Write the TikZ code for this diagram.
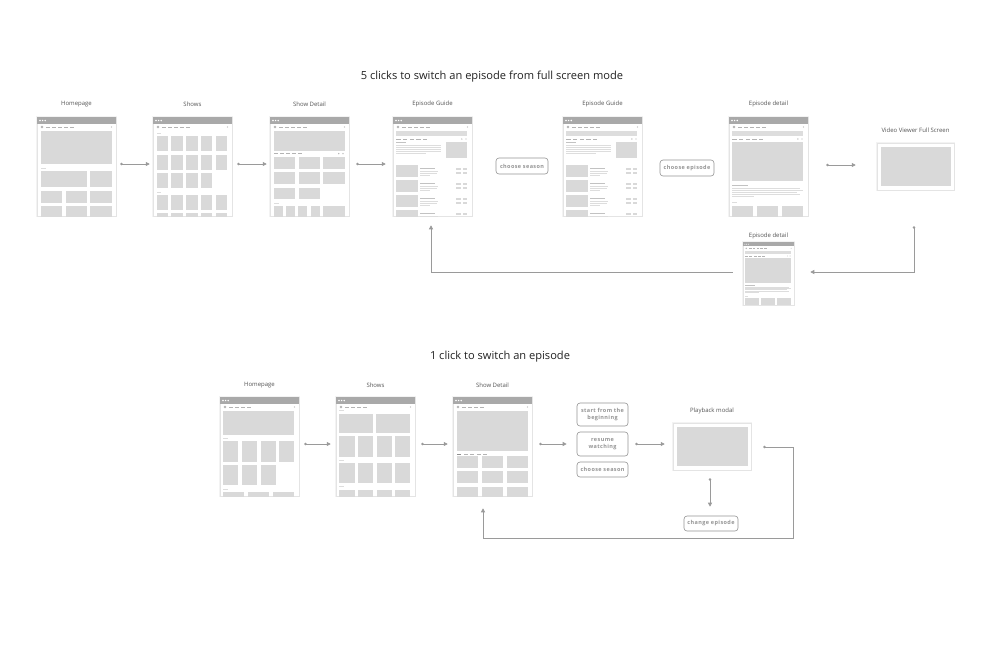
\documentclass[tikz,border=0pt]{standalone}
\usepackage{fontspec}
\setmainfont{Open Sans}
\newfontfamily\btnfont[LetterSpace=7]{Open Sans}
\usetikzlibrary{arrows.meta}
\definecolor{headc}{HTML}{A9A9A9}
\definecolor{boxc}{HTML}{D9D9D9}
\definecolor{linec}{HTML}{DDDDDD}
\definecolor{darkl}{HTML}{C2C2C2}
\definecolor{navc}{HTML}{B3B3B3}
\definecolor{arrowc}{HTML}{9A9A9A}
\definecolor{btnc}{HTML}{949494}
\definecolor{labelc}{HTML}{555555}
\definecolor{titlec}{HTML}{222222}
\definecolor{edgec}{HTML}{E4E4E4}
\definecolor{halo}{HTML}{F3F3F3}
\tikzset{
  wf/.style={draw=edgec, fill=white, line width=0.5pt, minimum width=79pt, minimum height=99pt, inner sep=0pt,
    preaction={draw=halo, line width=2.4pt}},
  wfsmall/.style={wf, minimum width=51pt, minimum height=63pt},
  modal/.style={wf, minimum width=77pt, minimum height=47pt},
  flow/.style={draw=arrowc, line width=0.8pt, {Circle[length=2.4pt]}-{Triangle[length=4pt,width=4pt]}},
  flowend/.style={draw=arrowc, line width=0.8pt, -{Triangle[length=4pt,width=4pt]}},
  btn/.style={draw=btnc, rounded corners=3pt, line width=0.6pt, text=btnc, align=center, inner sep=0pt,
    font=\btnfont\bfseries\fontsize{5.5}{7.4}\selectfont},
  lbl/.style={font=\fontsize{6}{7}\selectfont, text=labelc, inner sep=0pt},
  ttl/.style={font=\fontsize{11.1}{13}\selectfont, text=titlec, inner sep=0pt}
}
\newcommand{\bx}[4]{\fill[boxc] (#1,#2) rectangle (#3,#4);}
\newcommand{\tl}[3]{\fill[linec] (#1,#2) rectangle (#3,#2+0.8);}
\newcommand{\dl}[3]{\fill[darkl] (#1,#2) rectangle (#3,#2+1);}
\newcommand{\wfhead}[1]{%
  \fill[headc] (0,0) rectangle (79,7);
  \foreach \i in {3,5.6,8.2} \fill[white] (\i,3.5) circle (0.8);
  \fill[navc] (5,10) circle (1.3);
  \foreach \i in {#1} \fill[navc] (\i,9.65) rectangle ++(4.2,0.7);
  \fill[navc] (74.5,10) circle (0.7);}
\newcommand{\tabs}[3]{%
  \foreach \i in {#1} \fill[navc] (\i,#2) rectangle ++(4.3,0.6);
  \ifx#3y\fill[navc] (68.8,#2+0.3) circle (0.7); \fill[navc] (73,#2+0.3) circle (0.7);\fi}
\newcommand{\placewf}[3]{\begin{scope}[shift={(#1,#2)}]\clip (0,0) rectangle (79,99); #3\end{scope}}
% ---------- contents ----------
\newcommand{\cHome}{\wfhead{9,15,21,27,33}
  \bx{4}{14}{75}{47}
  \tl{4}{50.5}{9}
  \bx{4}{54}{50}{70}\bx{53}{54}{75}{70}
  \bx{4}{74}{25}{86}\bx{29}{74}{50}{86}\bx{53}{74}{75}{86}
  \bx{4}{89}{25}{104}\bx{29}{89}{50}{104}\bx{53}{89}{75}{104}}
\newcommand{\cShows}{\wfhead{9,15,21,27,33}
  \tl{3.5}{15.5}{8}
  \foreach \c in {3.5,18.3,33.1,47.9,62.7}{\bx{\c}{19}{\c+11.5}{34}\bx{\c}{38}{\c+11.5}{53}}
  \foreach \c in {3.5,18.3,33.1,47.9}{\bx{\c}{56}{\c+11.5}{71}}
  \tl{3.5}{74.5}{8}
  \foreach \c in {3.5,18.3,33.1,47.9,62.7}{\bx{\c}{78}{\c+11.5}{93}\bx{\c}{96}{\c+11.5}{111}}}
\newcommand{\cShowDetail}{\wfhead{9,15,21,27,33}
  \bx{4}{14}{75}{34}
  \tabs{4,10,16,22,28}{36.3}{y}
  \foreach \a/\b in {4/25,29/50,53/75}{\bx{\a}{40}{\b}{52}\bx{\a}{55}{\b}{67}}
  \bx{4}{71}{25}{82}\bx{29}{71}{50}{82}
  \tl{4}{85.7}{9}
  \foreach \a/\b in {4/13,16/25,28/37,41/50,53/75}{\bx{\a}{89}{\b}{104}}}
\newcommand{\cEpGuide}{\wfhead{9,15,21,27,33}
  \fill[linec] (3.3,14.3) rectangle (74.3,19.3);
  \tabs{3.3,10,16.7,23.3,30}{21.7}{y}
  \dl{3.3}{25}{12.7}
  \foreach \r in {28,30,32,34}{\tl{3.3}{\r}{47.7}}
  \tl{3.3}{36}{32.7}
  \bx{53.3}{25}{74.3}{41}
  \foreach \r in {48.3,63.3,78.3,93.3}{%
    \bx{3.3}{\r}{25}{\r+11.7}
    \dl{27.3}{\r+3}{41.7}
    \tl{27.3}{\r+5.3}{45}\tl{27.3}{\r+7.3}{43.7}\tl{27.3}{\r+9.3}{37.3}
    \fill[boxc] (63.3,\r+3) rectangle (67.7,\r+5);
    \fill[boxc] (69.7,\r+3) rectangle (74.3,\r+5);
    \fill[boxc] (63.3,\r+6.7) rectangle (67.7,\r+8.7);
    \fill[boxc] (69.7,\r+6.7) rectangle (74.3,\r+8.7);}}
\newcommand{\cEpDetail}{\wfhead{9,15,21,27,33}
  \fill[linec] (3.3,14.3) rectangle (74,18.7);
  \tabs{3.3,10,16.7,23.3,30}{21.7}{y}
  \bx{3.3}{24.7}{74}{63.7}
  \dl{3.3}{67.8}{19}
  \tl{3.3}{70.5}{71}\tl{3.3}{72.5}{74}\tl{3.3}{74.5}{67.7}\tl{3.3}{76.5}{71}\tl{3.3}{78.7}{25}
  \tl{3.3}{85}{7.5}
  \bx{3.3}{88.7}{24.3}{105}\bx{28}{88.7}{49.3}{105}\bx{52.7}{88.7}{74}{105}}
\newcommand{\cHomeB}{\wfhead{9,15,21,27}
  \bx{3.3}{14}{74}{38}
  \tl{3.3}{41}{8}
  \foreach \c in {3.3,22,40.7,59}{\bx{\c}{44.3}{\c+15}{65}}
  \foreach \c in {3.3,22,40.7}{\bx{\c}{67.7}{\c+15}{88.3}}
  \tl{3.3}{91.5}{8}
  \bx{3.3}{94.7}{24.3}{110}\bx{28}{94.7}{49.3}{110}\bx{53}{94.7}{74}{110}}
\newcommand{\cShowsB}{\wfhead{9,15,21,27}
  \tl{3.3}{13}{8}
  \bx{3.3}{16.7}{37}{35.7}\bx{40.3}{16.7}{74.3}{35.7}
  \foreach \c in {3.3,22,40.7,59}{\bx{\c}{39}{\c+15.3}{59.7}}
  \tl{3.3}{62.7}{8}
  \foreach \c in {3.3,22,40.7,59}{\bx{\c}{65.7}{\c+15.3}{86.3}}
  \tl{3.3}{89.4}{8}
  \foreach \c in {3.3,22,40.7,59}{\bx{\c}{92.7}{\c+15.3}{113}}}
\newcommand{\cShowDetailB}{\wfhead{9,15,21,27}
  \bx{4}{13.7}{74.7}{53.7}
  \fill[navc!80!black] (4,56.7) rectangle ++(4.3,0.6);
  \tabs{10.5,17,23.5,30}{56.7}{n}
  \foreach \a/\b in {4/25.3,29/50,53.7/74.7}{\bx{\a}{59.3}{\b}{71.3}\bx{\a}{74.3}{\b}{86.3}\bx{\a}{89.7}{\b}{101.7}}}
\begin{document}
\begin{tikzpicture}[x=1pt,y=-1pt]
\useasboundingbox (0,0) rectangle (998,649);
\fill[white] (0,0) rectangle (998,649);
% titles
\node[ttl] (t1) at (492,77) {5 clicks to switch an episode from full screen mode};
\node[ttl] (t2) at (500,357) {1 click to switch an episode};
% ---------- top row ----------
\node[wf] (hp1) at (76.5,166.5) {};  \placewf{37}{117}{\cHome}
\node[wf] (sh1) at (192.5,166.5) {}; \placewf{153}{117}{\cShows}
\node[wf] (sd1) at (309.5,166.5) {}; \placewf{270}{117}{\cShowDetail}
\node[wf] (eg1) at (432.5,166.5) {}; \placewf{393}{117}{\cEpGuide}
\node[wf] (eg2) at (602.5,166.5) {}; \placewf{563}{117}{\cEpGuide}
\node[wf] (ed1) at (768.5,166.5) {}; \placewf{729}{117}{\cEpDetail}
\node[modal] (vv) at (915.5,166.5) {};
\fill[boxc] (880.5,147) rectangle (950.5,186);
\node[wfsmall] (ed2) at (768.5,273.5) {};
\begin{scope}[shift={(743,242)},xscale=0.646,yscale=0.636]\clip (0,0) rectangle (79,99); \cEpDetail\end{scope}
\node[lbl] (l1) at (76.5,104) {Homepage};
\node[lbl] (l2) at (192.5,104) {Shows};
\node[lbl] (l3) at (309.5,104) {Show Detail};
\node[lbl] (l4) at (432.5,104) {Episode Guide};
\node[lbl] (l5) at (602.5,104) {Episode Guide};
\node[lbl] (l6) at (768.5,104) {Episode detail};
\node[lbl] (l7) at (915.5,130) {Video Viewer Full Screen};
\node[lbl] (l8) at (768.5,236) {Episode detail};
\node[btn, minimum width=52pt, minimum height=16pt] (cs1) at (522,166) {choose season};
\node[btn, minimum width=54pt, minimum height=16pt] (ce1) at (687,168) {choose episode};
\draw[flow] ([shift={(4,-2.5)}]hp1.east) -- ([shift={(-3,-2.5)}]sh1.west);
\draw[flow] ([shift={(5,-2.5)}]sh1.east) -- ([shift={(-3,-2.5)}]sd1.west);
\draw[flow] ([shift={(7,-2.5)}]sd1.east) -- ([shift={(-7,-2.5)}]eg1.west);
\draw[flow] ([shift={(18,-1.5)}]ed1.east) -- ([shift={(-21,-1.5)}]vv.west);
\draw[flowend] ([shift={(-10,-1.5)}]ed2.west) -| ([shift={(-1.5,9)}]eg1.south);
\draw[flow] ([shift={(-1.5,36)}]vv.south) |- ([shift={(16,-1.5)}]ed2.east);
% ---------- bottom row ----------
\node[wf] (hp2) at (259.5,446.5) {}; \placewf{220}{397}{\cHomeB}
\node[wf] (sh2) at (375.5,446.5) {}; \placewf{336}{397}{\cShowsB}
\node[wf] (sd2) at (492.5,446.5) {}; \placewf{453}{397}{\cShowDetailB}
\node[modal, minimum width=78pt] (pm) at (712,446.5) {};
\fill[boxc] (676.5,426.7) rectangle (747.5,466.3);
\node[lbl] (l9) at (259.5,385) {Homepage};
\node[lbl] (l10) at (375.5,385) {Shows};
\node[lbl] (l11) at (492.5,385) {Show Detail};
\node[lbl] (l12) at (712,411) {Playback modal};
\node[btn, minimum width=51pt, minimum height=23pt] (sfb) at (602.5,414.5) {start from the\\beginning};
\node[btn, minimum width=51pt, minimum height=24pt] (rw) at (602.5,444) {resume\\watching};
\node[btn, minimum width=51pt, minimum height=15pt] (cs2) at (602.5,469.5) {choose season};
\node[btn, minimum width=54pt, minimum height=15pt] (ce2) at (711,523.5) {change episode};
\draw[flow] ([shift={(5,-2.5)}]hp2.east) -- ([shift={(-5,-2.5)}]sh2.west);
\draw[flow] ([shift={(6,-2.5)}]sh2.east) -- ([shift={(-5,-2.5)}]sd2.west);
\draw[flow] ([shift={(7,-2.5)}]sd2.east) -- ([shift={(-10,0)}]rw.west);
\draw[flow] ([shift={(7,0)}]rw.east) -- ([shift={(-8,-2.5)}]pm.west);
\draw[flow] ([shift={(-2,8)}]pm.south) -- ([shift={(-1,-9)}]ce2.north);
\draw[flow] ([shift={(12,0.5)}]pm.east) -- ++(30,0) -- ++(0,91) -| ([shift={(-9.5,12)}]sd2.south);
\end{tikzpicture}
\end{document}
